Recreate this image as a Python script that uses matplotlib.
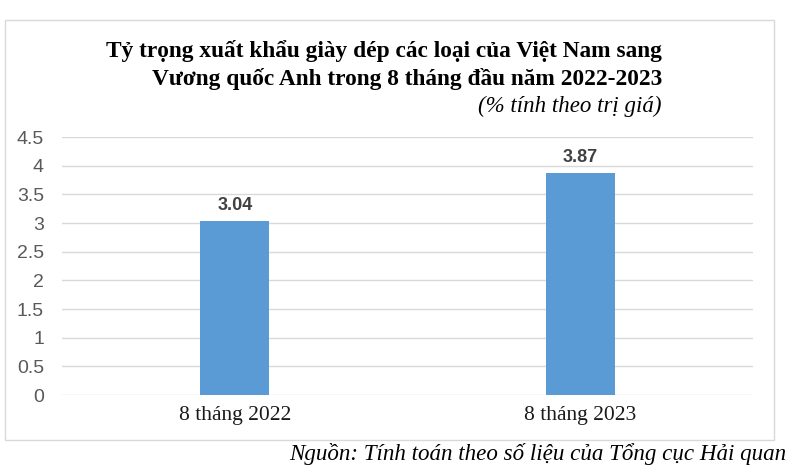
import matplotlib.pyplot as plt
from matplotlib.patches import Rectangle

# Data
categories = ["8 tháng 2022", "8 tháng 2023"]
values = [3.04, 3.87]
y_ticks = [0, 0.5, 1, 1.5, 2, 2.5, 3, 3.5, 4, 4.5]
y_tick_labels = ["0", "0.5", "1", "1.5", "2", "2.5", "3", "3.5", "4", "4.5"]

title_1 = "Tỷ trọng xuất khẩu giày dép các loại của Việt Nam sang"
title_2 = "Vương quốc Anh trong 8 tháng đầu năm 2022-2023"
subtitle = "(% tính theo trị giá)"
source = "Nguồn: Tính toán theo số liệu của Tổng cục Hải quan"

W, H = 790, 475
fig = plt.figure(figsize=(W / 100, H / 100), dpi=100)

# light border around the chart area
fig.patches.append(Rectangle((5 / W, 1 - 440 / H), 769 / W, 420 / H,
                             transform=fig.transFigure, fill=False,
                             edgecolor="#d9d9d9", linewidth=1))

ax = fig.add_axes([62 / W, 1 - 395 / H, (753 - 62) / W, (395 - 137) / H])
x = range(len(categories))
bars = ax.bar(x, values, width=0.2, color="#5b9bd5", zorder=3)
ax.set_xlim(-0.5, len(categories) - 0.5)
ax.set_ylim(0, 4.5)
ax.set_yticks(y_ticks)
ax.set_yticklabels(y_tick_labels, fontsize=14, color="#595959", family="Liberation Sans")
ax.set_xticks(list(x))
ax.set_xticklabels(categories, fontsize=15.5, color="#1a1a1a", family="Liberation Serif")
ax.tick_params(axis="both", length=0)
ax.tick_params(axis="y", pad=13)
ax.tick_params(axis="x", pad=8)
ax.yaxis.grid(True, color="#d9d9d9", linewidth=1, zorder=0)
for s in ax.spines.values():
    s.set_visible(False)

for b, v in zip(bars, values):
    ax.annotate(f"{v:.2f}", (b.get_x() + b.get_width() / 2, v), xytext=(0, 5),
                textcoords="offset points", ha="center", va="bottom",
                fontsize=13, fontweight="bold", color="#404040", family="Liberation Sans")

fig.text(662 / W, 1 - 57 / H, title_1, ha="right", va="baseline", fontsize=16.8,
         fontweight="bold", family="Liberation Serif", color="black")
fig.text(662 / W, 1 - 85 / H, title_2, ha="right", va="baseline", fontsize=16.8,
         fontweight="bold", family="Liberation Serif", color="black")
fig.text(662 / W, 1 - 112 / H, subtitle, ha="right", va="baseline", fontsize=16.5,
         style="italic", family="Liberation Serif", color="black")
fig.text(786 / W, 1 - 460 / H, source, ha="right", va="baseline", fontsize=16.6,
         style="italic", family="Liberation Serif", color="black")

fig.savefig("out.png", dpi=100)
